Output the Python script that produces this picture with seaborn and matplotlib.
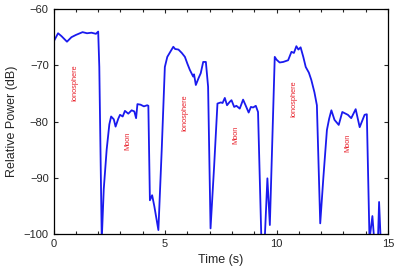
import numpy as np
import pandas as pd
import seaborn as sns
import matplotlib.pyplot as plt

# time (s) and relative power (dB)
time_s = [0.0, 0.2, 0.35, 0.6, 0.8, 1.0, 1.3, 1.5, 1.7, 1.9, 2.0, 2.05, 2.16, 2.25, 2.38,
          2.5, 2.58, 2.7, 2.78, 2.9, 2.98, 3.1, 3.2, 3.35, 3.5, 3.62, 3.7, 3.76, 3.9, 4.05,
          4.2, 4.25, 4.32, 4.42, 4.52, 4.7, 4.85, 4.99, 5.1, 5.25, 5.37, 5.45, 5.6, 5.75,
          5.89, 6.0, 6.11, 6.26, 6.3, 6.38, 6.5, 6.6, 6.71, 6.83, 6.93, 7.04, 7.2, 7.35,
          7.5, 7.58, 7.68, 7.78, 7.9, 7.98, 8.1, 8.2, 8.35, 8.5, 8.6, 8.75, 8.85, 8.95,
          9.07, 9.17, 9.32, 9.47, 9.59, 9.7, 9.92, 10.0, 10.14, 10.3, 10.52, 10.67, 10.78,
          10.89, 10.98, 11.08, 11.2, 11.31, 11.45, 11.56, 11.7, 11.81, 11.96, 12.1, 12.26,
          12.36, 12.46, 12.6, 12.79, 12.95, 13.1, 13.2, 13.35, 13.55, 13.73, 13.95, 14.05,
          14.17, 14.3, 14.38, 14.55, 14.6, 14.67, 15.0]
power_db = [-65.8, -64.3, -64.8, -65.8, -65.0, -64.6, -64.1, -64.3, -64.2, -64.4, -64.0, -70.3,
            -101, -92, -85, -80.5, -79.1, -79.6, -80.9, -79.5, -78.8, -79.1, -78.1, -78.6,
            -78.0, -78.2, -79.4, -76.9, -77.0, -77.3, -77.1, -77.2, -94.0, -93.1, -95.1,
            -99.3, -85.0, -70.3, -68.5, -67.5, -66.7, -67.1, -67.2, -67.8, -68.5, -69.7,
            -70.8, -72.0, -71.6, -73.5, -72.3, -71.4, -69.4, -69.4, -73.8, -99.0, -88.0,
            -76.8, -76.6, -76.7, -75.8, -77.1, -76.5, -76.2, -77.4, -77.2, -77.7, -76.1,
            -77.0, -78.4, -77.4, -77.5, -77.2, -78.3, -101, -101, -90.1, -98.4, -68.5,
            -69.0, -69.5, -69.4, -69.1, -67.6, -67.8, -66.6, -67.2, -66.8, -68.5, -70.3,
            -71.3, -72.6, -74.8, -77.1, -98.1, -90.0, -81.5, -79.5, -78.0, -79.7, -80.6,
            -78.3, -78.6, -78.8, -79.4, -77.8, -81.0, -78.8, -78.7, -101, -96.8, -101,
            -101, -94.3, -101, -101]

labels = ["Ionosphere", "Moon", "Ionosphere", "Moon", "Ionosphere", "Moon"]
label_t = [0.96, 3.35, 5.89, 8.17, 10.77, 13.2]
label_db = [-73.1, -83.5, -78.5, -82.4, -76.0, -83.8]

df = pd.DataFrame({"t": time_s, "p": power_db})

sns.set_style("ticks", {"xtick.direction": "in", "ytick.direction": "in"})
plt.rcParams["font.family"] = ["Liberation Sans", "DejaVu Sans"]

fig = plt.figure(figsize=(4, 2.75), dpi=100)
ax = fig.add_axes([0.134, 0.149, 0.836, 0.818])
sns.lineplot(data=df, x="t", y="p", sort=False, estimator=None,
             color="#1a1aee", linewidth=1.3, ax=ax)

for lab, tx, ty in zip(labels, label_t, label_db):
    ax.text(tx, ty, lab, rotation=90, color="#e8202a", fontsize=5.3,
            ha="center", va="center")

ax.set_xlim(0, 15)
ax.set_ylim(-100, -60)
ax.set_xticks([0, 5, 10, 15])
ax.set_xticks(np.arange(0, 16, 1), minor=True)
ax.set_yticks([-100, -90, -80, -70, -60])
ax.tick_params(which="both", top=True, right=True, labelsize=8, length=3, width=0.8)
ax.tick_params(which="minor", length=2)
ax.set_xlabel("Time (s)", fontsize=9)
ax.set_ylabel("Relative Power (dB)", fontsize=9)
for s in ax.spines.values():
    s.set_linewidth(0.9)
    s.set_color("black")

fig.savefig("out.png", dpi=100)
